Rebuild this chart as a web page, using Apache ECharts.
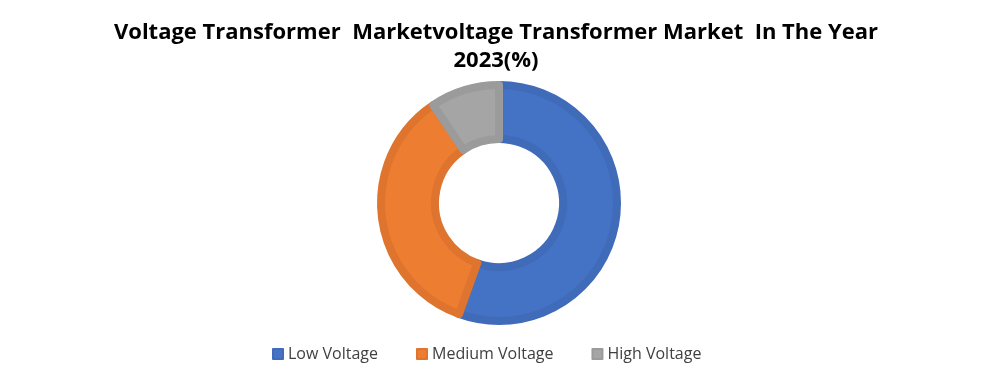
<!DOCTYPE html>
<html>
<head>
<meta charset="utf-8">
<script src="https://cdn.jsdelivr.net/npm/echarts@6/dist/echarts.min.js"></script>
<style>
  html, body { margin: 0; padding: 0; background: #fff; }
  #main { width: 992px; height: 376px; }
</style>
</head>
<body>
<div id="main"></div>
<script>
// market share by voltage class, 2023 (%)
var categories = ['Low Voltage', 'Medium Voltage', 'High Voltage'];
var shares = [55.5, 35.1, 9.4];
var colors = ['#4472C4', '#ED7D31', '#A5A5A5'];
var borders = ['#3F6BB9', '#DE742D', '#9B9B9B'];

var myChart = echarts.init(document.getElementById('main'));

var pieData = categories.map(function(name, i) {
    return {
        name: name,
        value: shares[i],
        itemStyle: { color: colors[i], borderColor: borders[i] }
    };
});

var option = {
    animation: false,
    title: {
        text: 'Voltage Transformer  Marketvoltage Transformer Market  In The Year\n2023(%)',
        left: 'center',
        top: 14,
        textStyle: {
            fontFamily: 'Open Sans',
            fontWeight: 'bold',
            fontSize: 22,
            lineHeight: 28,
            color: '#000'
        }
    },
    legend: {
        bottom: 9,
        left: 267,
        itemWidth: 10,
        itemHeight: 10,
        itemGap: 38,
        icon: 'rect',
        textStyle: { fontFamily: 'Open Sans', fontSize: 16, color: '#404040' },
        data: categories
    },
    series: [
        {
            type: 'pie',
            radius: [64, 118],
            center: [499, 203],
            startAngle: 90,
            clockwise: true,
            label: { show: false },
            labelLine: { show: false },
            itemStyle: { borderWidth: 8 },
            data: pieData
        }
    ]
};
myChart.setOption(option);
</script>
</body>
</html>
